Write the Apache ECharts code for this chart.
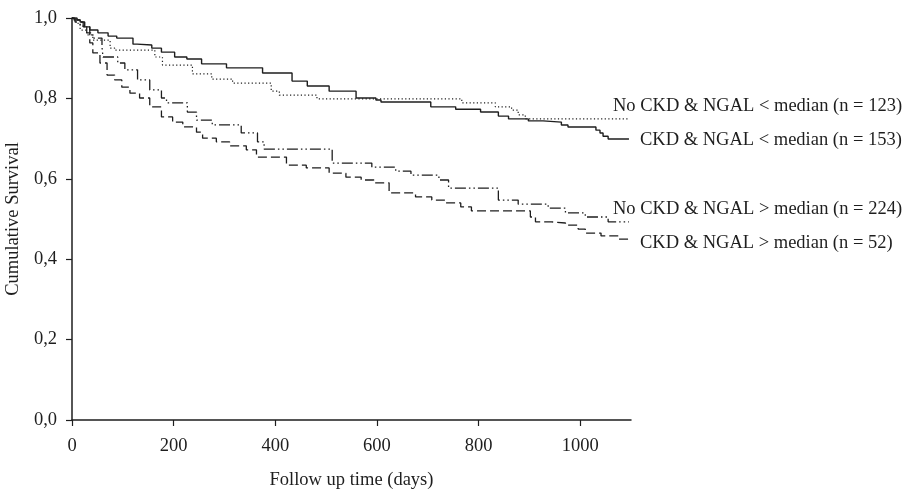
<!DOCTYPE html>
<html>
<head>
<meta charset="utf-8">
<script src="https://cdn.jsdelivr.net/npm/echarts@6/dist/echarts.min.js"></script>
<style>html,body{margin:0;padding:0;background:#fff}#c{width:913px;height:492px}</style>
</head>
<body>
<div id="c"></div>
<script>
// Kaplan-Meier step data: [day, cumulative survival] (value after drop at that day)
var seriesNames = [
  'No CKD & NGAL < median (n = 123)',
  'CKD & NGAL < median (n = 153)',
  'No CKD & NGAL > median (n = 224)',
  'CKD & NGAL > median (n = 52)'
];
var noCkdLow = [
  [0,1.0],[12,0.985],[16,0.970],[29,0.958],[41,0.945],[75,0.925],[84,0.920],
  [163,0.903],[178,0.883],[237,0.861],[275,0.848],[316,0.838],[392,0.818],
  [408,0.808],[482,0.799],[767,0.789],[833,0.779],[865,0.771],[878,0.759],
  [892,0.749],[1096,0.749]
];
var ckdLow = [
  [0,1.0],[10,0.995],[16,0.990],[25,0.978],[35,0.970],[51,0.963],[71,0.955],
  [88,0.950],[120,0.935],[128,0.933],[157,0.925],[176,0.915],[202,0.903],
  [226,0.898],[255,0.886],[304,0.876],[375,0.863],[433,0.843],[463,0.831],
  [506,0.818],[559,0.801],[598,0.796],[608,0.791],[706,0.779],[755,0.773],
  [804,0.766],[839,0.756],[859,0.749],[898,0.744],[927,0.741],[963,0.734],
  [976,0.729],[1031,0.721],[1039,0.714],[1045,0.706],[1055,0.699],[1096,0.699]
];
var noCkdHigh = [
  [0,1.0],[4,0.995],[16,0.980],[29,0.963],[41,0.950],[59,0.928],[61,0.903],
  [90,0.888],[104,0.871],[129,0.846],[153,0.821],[176,0.801],[186,0.789],
  [227,0.766],[245,0.746],[276,0.734],[333,0.714],[365,0.692],[378,0.674],
  [512,0.639],[590,0.629],[637,0.619],[667,0.609],[722,0.597],[741,0.577],
  [839,0.547],[878,0.537],[937,0.527],[971,0.515],[1010,0.505],[1055,0.493],
  [1096,0.493]
];
var ckdHigh = [
  [0,1.0],[6,0.990],[22,0.978],[35,0.938],[41,0.913],[55,0.888],[69,0.858],
  [84,0.846],[98,0.828],[114,0.813],[133,0.801],[153,0.779],[176,0.754],
  [198,0.741],[218,0.729],[245,0.716],[257,0.701],[284,0.692],[310,0.682],
  [343,0.672],[363,0.654],[422,0.634],[461,0.627],[506,0.614],[539,0.604],
  [569,0.597],[594,0.590],[624,0.565],[676,0.555],[708,0.547],[735,0.540],
  [765,0.530],[786,0.520],[902,0.505],[912,0.493],[943,0.490],[971,0.485],
  [996,0.475],[1010,0.465],[1041,0.458],[1075,0.450],[1096,0.450]
];
var xTicks = [0,200,400,600,800,1000];
var yTicks = [0,0.2,0.4,0.6,0.8,1.0];

var FONT = '"Liberation Serif", "Times New Roman", serif';
var INK = '#1e1e1e';
var chart = echarts.init(document.getElementById('c'), null, {renderer:'canvas'});

function mk(name, data, dash, w){
  return {
    name: name, type: 'line', step: 'end', data: data,
    showSymbol: false, symbol: 'none', silent: true, animation: false,
    lineStyle: {color: INK, width: w, type: dash}
  };
}

chart.setOption({
  backgroundColor: '#fff',
  animation: false,
  grid: {left: 72, right: 282, top: 18, bottom: 72, containLabel: false, outerBoundsMode: 'none'},
  xAxis: {
    type: 'value', min: 0, max: 1100, interval: 200,
    name: 'Follow up time (days)', nameLocation: 'middle', nameGap: 51,
    nameTextStyle: {fontFamily: FONT, fontSize: 18.5, color: INK},
    axisLine: {show: true, lineStyle: {color: INK, width: 1.5}},
    axisTick: {show: true, length: 6, lineStyle: {color: INK, width: 1.2}, customValues: xTicks},
    axisLabel: {fontFamily: FONT, fontSize: 18.5, color: INK, margin: 17, customValues: xTicks,
      formatter: function(v){ return String(v); }},
    splitLine: {show: false}
  },
  yAxis: {
    type: 'value', min: 0, max: 1, interval: 0.2,
    name: 'Cumulative Survival', nameLocation: 'middle', nameGap: 45, nameRotate: 90,
    nameTextStyle: {fontFamily: FONT, fontSize: 18.5, color: INK},
    axisLine: {show: true, lineStyle: {color: INK, width: 1.5}},
    axisTick: {show: true, length: 6, lineStyle: {color: INK, width: 1.2}, customValues: yTicks},
    axisLabel: {fontFamily: FONT, fontSize: 18.5, color: INK, margin: 15, customValues: yTicks,
      formatter: function(v){ return v.toFixed(1).replace('.', ','); }},
    splitLine: {show: false}
  },
  series: [
    mk(seriesNames[0], noCkdLow, [1.2, 2.4], 1.2),
    mk(seriesNames[1], ckdLow, 'solid', 1.4),
    mk(seriesNames[2], noCkdHigh, [11, 3, 1.5, 3, 1.5, 3], 1.3),
    mk(seriesNames[3], ckdHigh, [9, 4], 1.3)
  ],
  graphic: [
    {type:'text', left: 613, top: 97, style:{text: seriesNames[0], font: '18.5px ' + FONT, fill: INK}},
    {type:'text', left: 640, top: 131, style:{text: seriesNames[1], font: '18.5px ' + FONT, fill: INK}},
    {type:'text', left: 613, top: 200, style:{text: seriesNames[2], font: '18.5px ' + FONT, fill: INK}},
    {type:'text', left: 640, top: 234, style:{text: seriesNames[3], font: '18.5px ' + FONT, fill: INK}}
  ]
});
</script>
</body>
</html>
